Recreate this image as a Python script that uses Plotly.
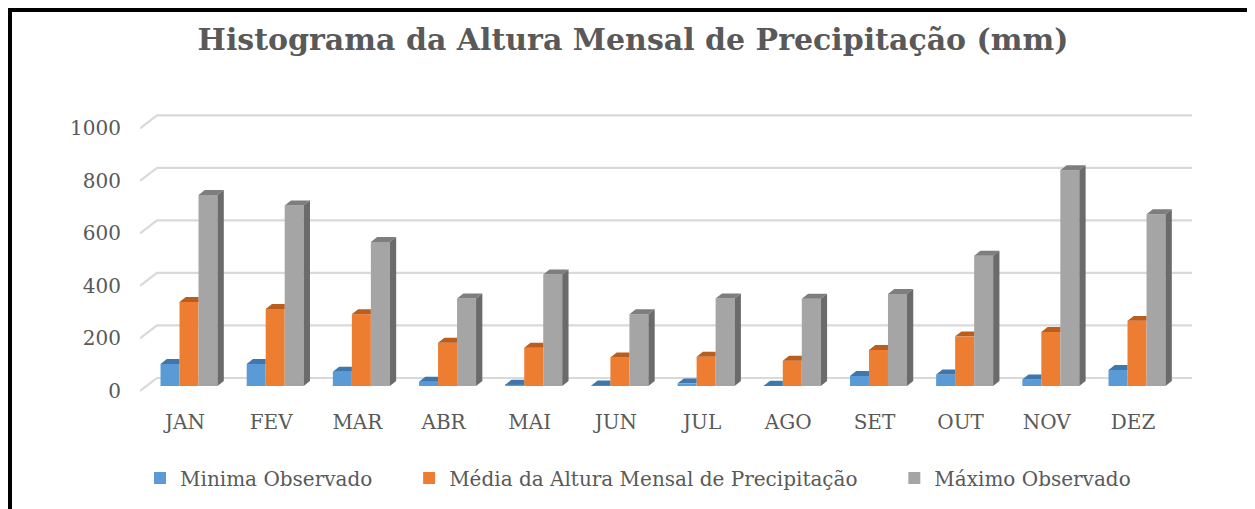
import plotly.graph_objects as go

months = ["JAN", "FEV", "MAR", "ABR", "MAI", "JUN", "JUL", "AGO", "SET", "OUT", "NOV", "DEZ"]
minimo = [84, 84, 54, 16, 5, 2, 10, 1, 38, 44, 25, 61]
media = [320, 293, 273, 165, 146, 109, 111, 96, 137, 189, 206, 248]
maximo = [727, 687, 548, 333, 425, 273, 333, 332, 350, 496, 822, 654]
y_ticks = [0, 200, 400, 600, 800, 1000]

NBSP = "\u00a0"
series = [
    ("Minima Observado", minimo, "#5B9BD5", "#3F76AC", "#3A6C9C", 5),
    ("Média da Altura Mensal de Precipitação", media, "#ED7D31", "#B95E1E", "#A9561C", 5),
    ("Máximo Observado", maximo, "#A5A5A5", "#7E7E7E", "#6B6B6B", 0),
]

W = 0.2205      # bar width (category units)
DX = 0.073      # depth offset in x (category units)
DY = 19.0       # depth offset in y (value units)
offsets = [-1.5 * W, -0.5 * W, 0.5 * W]

X_MIN, X_MAX = -0.5686, 11.638
Y_MIN, Y_MAX = -30.46, 1100.5

# page body has an 8px margin: work in page pixels, convert to figure pixels
OFF = 8
FW, FH = 1255, 509
ml, mt = 140 - OFF, 97 - OFF
pw, ph = 1052, 297
mr, mb = FW - ml - pw, FH - mt - ph

def px_x(p):
    return (p - OFF - ml) / pw

def px_y(p):
    return 1 - (p - OFF - mt) / ph

fig = go.Figure()
idx = list(range(len(months)))

for k, (name, vals, cfront, ctop, cside, pad) in enumerate(series):
    last = k == len(series) - 1
    fig.add_trace(go.Bar(x=idx, y=vals, width=W, offset=offsets[k], name=name + NBSP * pad,
                         marker=dict(color=cfront, line=dict(width=0)),
                         hovertemplate=name + ": %{y}<extra></extra>"))
    tx, ty, sx, sy = [], [], [], []
    for i, v in enumerate(vals):
        x0 = i + offsets[k]
        x1 = x0 + W
        if last:
            tx += [x0, x1, x1 + DX, x0 + DX, x0, None]
            ty += [v, v, v + DY, v + DY, v, None]
            sx += [x1, x1, x1 + DX, x1 + DX, x1, None]
            sy += [0, v, v + DY, DY, 0, None]
        else:
            tx += [x0, x1, x1, x0 + DX, x0, None]
            ty += [v, v, v + DY, v + DY, v, None]
    fig.add_trace(go.Scatter(x=tx, y=ty, fill="toself", fillcolor=ctop, mode="lines",
                             line=dict(width=0, color=ctop), showlegend=False, hoverinfo="skip"))
    if last:
        fig.add_trace(go.Scatter(x=sx, y=sy, fill="toself", fillcolor=cside, mode="lines",
                                 line=dict(width=0, color=cside), showlegend=False, hoverinfo="skip"))

# back-wall gridlines with floor diagonal
shapes = []
x_diag = X_MIN + 17 / 86.18
for t in y_ticks:
    shapes.append(dict(type="path", xref="x", yref="y", layer="below",
                       path=f"M{X_MIN},{t - 19} L{x_diag},{t + 30.5} L{X_MAX},{t + 30.5}",
                       line=dict(color="#D9D9D9", width=2.2)))

# outer frame (only top and left edges visible)
shapes.append(dict(type="rect", xref="paper", yref="paper",
                   x0=px_x(10), x1=px_x(1290), y0=px_y(540), y1=px_y(10),
                   line=dict(color="black", width=4), fillcolor="rgba(0,0,0,0)"))

fig.update_layout(
    width=FW, height=FH,
    margin=dict(l=ml, r=mr, t=mt, b=mb, autoexpand=False),
    paper_bgcolor="white", plot_bgcolor="white",
    barmode="overlay",
    shapes=shapes,
    title=dict(text="Histograma da Altura Mensal de Precipitação (mm)",
               x=(633 - OFF) / FW, xanchor="center", y=1 - (39 - OFF) / FH, yanchor="middle",
               font=dict(family="DejaVu Serif", size=30, color="#595959", weight="bold")),
    font=dict(family="DejaVu Serif", size=20, color="#595959"),
    xaxis=dict(range=[X_MIN, X_MAX], tickvals=idx, ticktext=months, showgrid=False,
               zeroline=False, showline=False, ticks="", ticklabelshift=-4,
               ticklabelstandoff=14, tickfont=dict(size=20, color="#595959")),
    yaxis=dict(range=[Y_MIN, Y_MAX], tickvals=y_ticks, showgrid=False, zeroline=False,
               showline=False, ticks="", ticklabelshift=5, ticklabelstandoff=18,
               tickfont=dict(size=20, color="#595959")),
    legend=dict(orientation="h", x=px_x(638), xanchor="center", y=px_y(478), yanchor="middle",
                font=dict(size=20, color="#595959"), bgcolor="rgba(0,0,0,0)"),
    showlegend=True,
)

fig.write_html("out.html")
